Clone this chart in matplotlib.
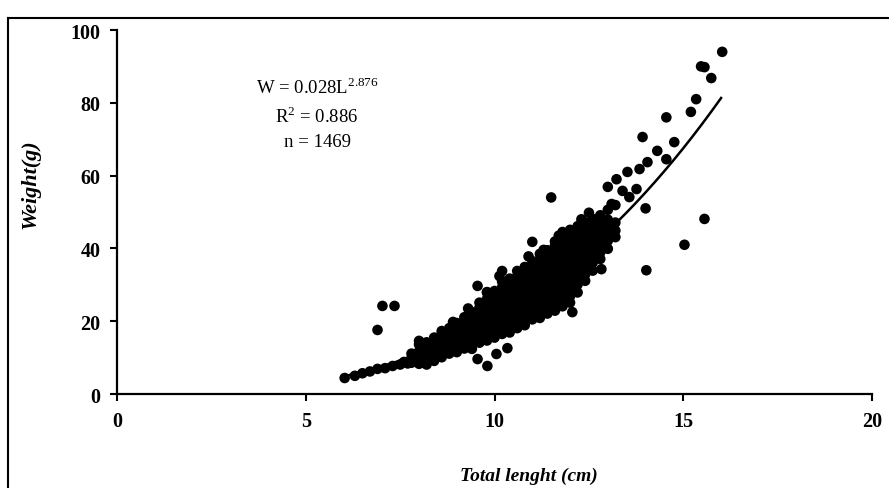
import matplotlib.pyplot as plt
import numpy as np
from matplotlib.lines import Line2D

plt.rcParams['font.family'] = 'Liberation Serif'
plt.rcParams['mathtext.fontset'] = 'custom'
plt.rcParams['mathtext.rm'] = 'Liberation Serif'

# length-weight readings (total length cm, weight g)
# small fish tail and outliers on the left
length_cm = [6.03, 6.3, 6.5, 6.7, 6.9, 7.1, 7.3, 7.5, 7.6, 7.7, 6.9, 7.03, 7.35]
weight_g = [4.4, 5.0, 5.7, 6.2, 6.9, 7.1, 7.7, 8.1, 8.8, 8.4, 17.6, 24.2, 24.2]

# main dense band, column by column
band_len = (
    [7.8] * 3 + [8.0] * 5 + [8.2] * 5 + [8.4] * 5 + [8.6] * 6 + [8.8] * 6
    + [9.0] * 6 + [9.2] * 7 + [9.4] * 7 + [9.6] * 8 + [9.8] * 9
)
band_wt = (
    [8.6, 9.9, 11.1]
    + [8.3, 10.1, 11.7, 13.6, 14.6]
    + [8.1, 9.7, 11.3, 13.1, 14.2]
    + [9.1, 10.5, 12.3, 13.7, 15.5]
    + [10.1, 11.9, 13.3, 15.1, 16.5, 17.3]
    + [11.1, 12.3, 14.1, 15.5, 17.3, 18.1]
    + [11.5, 13.3, 14.7, 16.5, 17.9, 19.5]
    + [12.5, 13.9, 15.7, 17.1, 18.9, 20.1, 21.1]
    + [12.4, 14.7, 16.1, 17.9, 19.3, 21.1, 22.5]
    + [14.1, 15.5, 17.3, 18.7, 20.5, 21.9, 23.7, 25.1]
    + [14.7, 16.5, 17.9, 19.7, 21.1, 22.9, 24.3, 26.1, 27.9]
)
band_len2 = (
    [10.0] * 9 + [10.2] * 10 + [10.4] * 10 + [10.6] * 10 + [10.8] * 11
    + [11.0] * 11 + [11.2] * 12 + [11.4] * 12 + [11.6] * 13
)
band_wt2 = (
    [15.5, 17.3, 18.7, 20.5, 21.9, 23.7, 25.1, 26.9, 28.3]
    + [16.5, 17.9, 19.7, 21.1, 22.9, 24.3, 26.1, 27.5, 29.3, 30.9]
    + [16.9, 18.7, 20.1, 21.9, 23.3, 25.1, 26.5, 28.3, 29.7, 31.7]
    + [18.1, 19.5, 21.3, 22.7, 24.5, 25.9, 27.7, 29.1, 30.9, 32.3]
    + [18.9, 20.7, 22.1, 23.9, 25.3, 27.1, 28.5, 30.3, 31.7, 33.5, 34.9]
    + [20.5, 21.9, 23.7, 25.1, 26.9, 28.3, 30.1, 31.5, 33.3, 34.7, 36.5]
    + [20.9, 22.7, 24.1, 25.9, 27.3, 29.1, 30.5, 32.3, 33.7, 35.5, 36.9, 38.5]
    + [22.1, 23.5, 25.3, 26.7, 28.5, 29.9, 31.7, 33.1, 34.9, 36.3, 38.1, 39.5]
    + [22.9, 24.7, 26.1, 27.9, 29.3, 31.1, 32.5, 34.3, 35.7, 37.5, 38.9, 40.7, 41.9]
)
band_len3 = (
    [11.8] * 11 + [12.0] * 11 + [12.2] * 10 + [12.4] * 9 + [12.6] * 8
    + [12.8] * 7 + [13.0] * 6 + [13.2] * 4
)
band_wt3 = (
    [24.1, 25.9, 28.1, 29.9, 32.1, 33.9, 36.1, 37.9, 40.1, 41.9, 44.1]
    + [25.1, 26.9, 29.1, 30.9, 33.1, 34.9, 37.1, 38.9, 41.1, 42.9, 45.1]
    + [27.9, 30.1, 31.9, 34.1, 35.9, 38.1, 39.9, 42.1, 43.9, 46.1]
    + [31.1, 32.9, 35.1, 36.9, 39.1, 40.9, 43.1, 44.9, 47.1]
    + [33.9, 36.1, 37.9, 40.1, 41.9, 44.1, 45.9, 48.1]
    + [37.1, 38.9, 41.1, 42.9, 45.1, 46.9, 49.1]
    + [39.9, 42.1, 43.9, 46.1, 47.9, 50.6]
    + [43.1, 44.9, 47.1, 51.9]
)

# scattered points above and below the band
extra_len = [9.55, 9.81, 10.05, 10.34, 9.55, 9.8, 10.13, 10.2, 10.6, 11.0, 11.3,
             11.8, 12.3, 11.5, 12.06, 12.83, 13.1, 13.0, 13.23, 13.52, 13.39,
             13.76, 13.84, 14.05, 14.31, 14.55, 14.76, 13.92, 13.57, 14.0,
             14.02, 15.03, 15.56, 14.55, 15.2, 15.34, 15.56, 15.74, 16.03, 15.47,
             8.9, 9.3, 10.9, 11.7, 12.5]
extra_wt = [9.6, 7.7, 11.0, 12.6, 29.7, 28.0, 32.4, 33.8, 33.8, 41.8, 39.6,
            44.5, 48.0, 54.0, 22.5, 34.3, 52.2, 56.9, 59.0, 61.0, 55.8,
            56.3, 61.8, 63.7, 66.8, 64.5, 69.2, 70.6, 54.1, 51.0,
            34.0, 41.0, 48.1, 76.0, 77.5, 81.0, 89.8, 86.8, 94.0, 90.0,
            19.8, 23.5, 37.8, 43.5, 49.8]

# power fit shown on the chart: W = a L^b
fit_a = 0.028
fit_b = 2.876
fit_range = (6.0, 16.0)

x_all = np.array(length_cm + band_len + band_len2 + band_len3 + extra_len)
y_all = np.array(weight_g + band_wt + band_wt2 + band_wt3 + extra_wt)

fig = plt.figure(figsize=(8.89, 4.89), dpi=100)
ax = fig.add_axes([0.1316, 0.1922, 0.8494, 0.7444])

ax.scatter(x_all, y_all, s=58, color='black', edgecolors='none', zorder=3)

lx = np.linspace(fit_range[0], fit_range[1], 200)
ax.plot(lx, fit_a * lx ** fit_b, color='black', lw=1.8, zorder=4)

ax.set_xlim(0, 20)
ax.set_ylim(0, 100)
ax.set_xticks([0, 5, 10, 15, 20])
ax.set_yticks([0, 20, 40, 60, 80, 100])
for s in ['top', 'right']:
    ax.spines[s].set_visible(False)
for s in ['left', 'bottom']:
    ax.spines[s].set_linewidth(1.6)
ax.tick_params(direction='out', length=5, width=1.5, labelsize=14.5, pad=7)
for lab in ax.get_xticklabels() + ax.get_yticklabels():
    lab.set_fontweight('bold')

ax.set_xlabel('Total lenght (cm)', fontsize=14, fontweight='bold', style='italic')
ax.xaxis.set_label_coords(0.545, -0.2)
ax.set_ylabel('Weight(g)', fontsize=16, fontweight='bold', style='italic')
ax.yaxis.set_label_coords(-0.102, 0.58)

ax.text(5.3, 84.5, r'W = 0.028L$^{2.876}$', ha='center', va='center', fontsize=13.5)
ax.text(5.3, 76.5, r'R$^{2}$ = 0.886', ha='center', va='center', fontsize=13.5)
ax.text(5.3, 69.5, 'n = 1469', ha='center', va='center', fontsize=13.5)

# outer frame of the figure (top and left edges visible)
fig.add_artist(Line2D([0.009, 0.999], [0.962, 0.962], color='black', lw=1.5))
fig.add_artist(Line2D([0.009, 0.009], [0.0, 0.962], color='black', lw=1.5))

fig.savefig('out.png', dpi=100)
